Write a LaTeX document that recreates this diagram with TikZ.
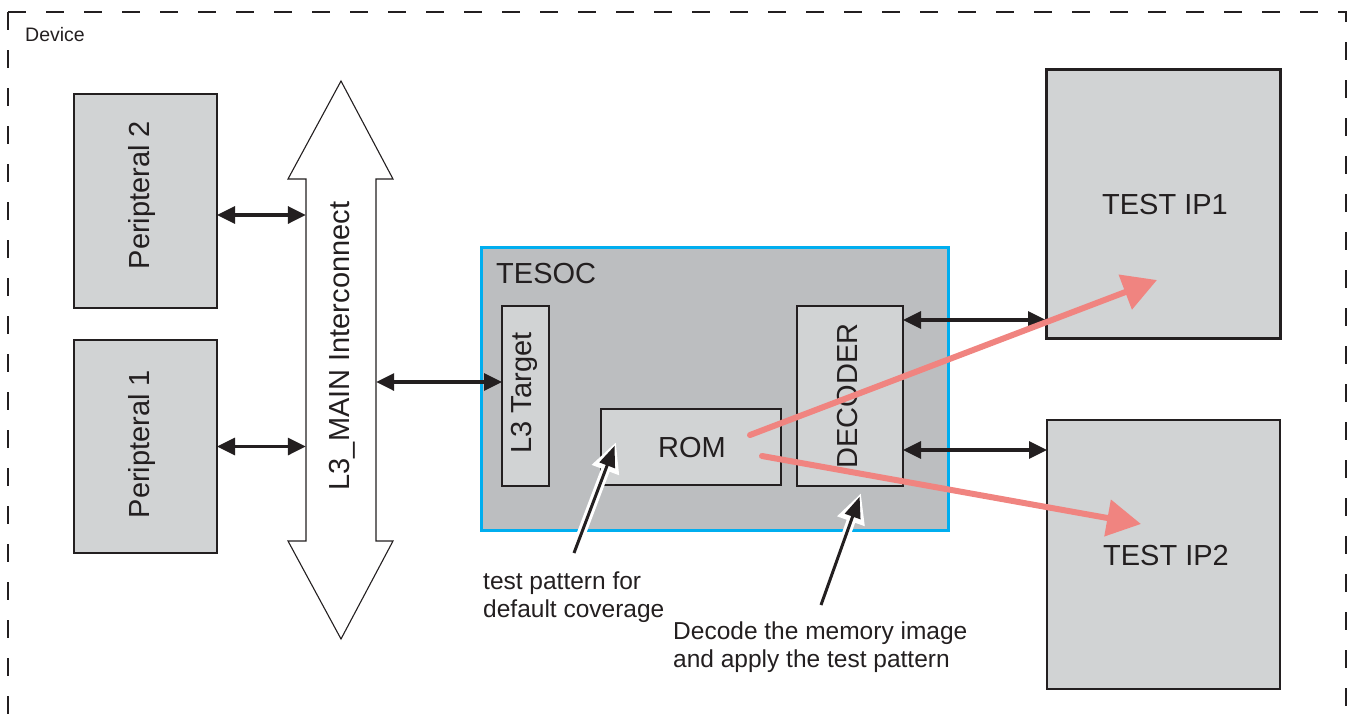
\documentclass[tikz,border=0pt]{standalone}
\usepackage{fontspec}
\setmainfont{Liberation Sans}
\usetikzlibrary{arrows.meta}
\definecolor{boxgray}{HTML}{D1D3D4}
\definecolor{socgray}{HTML}{BCBEC0}
\definecolor{cyanb}{HTML}{00AEEF}
\definecolor{salmon}{HTML}{F08480}
\definecolor{ink}{HTML}{231F20}
\begin{document}
\begin{tikzpicture}[x=1pt,y=-1pt,
  box/.style={draw=ink, fill=boxgray, line width=1.2pt, inner sep=0pt, outer sep=0pt},
  lbl/.style={text=ink, inner sep=0pt, font=\fontsize{29}{34}\selectfont},
  note/.style={text=ink, inner sep=0pt, align=left, font=\fontsize{24.5}{27.5}\selectfont},
  frame/.style={draw=ink, line width=1.3pt, dash pattern=on 18pt off 20pt},
  dbl/.style={draw=ink, line width=3.3pt, {Triangle[length=18pt,width=17pt]}-{Triangle[length=18pt,width=17pt]}},
  flow/.style={draw=salmon, line width=6pt, line cap=round, -{Triangle[length=34pt,width=36pt]}},
  halo/.style={draw=white, line width=9pt, -{Triangle[length=30pt,width=27pt]}},
  pointer/.style={draw=ink, line width=3pt, shorten >=4pt, -{Triangle[length=21pt,width=16pt]}}
]
\useasboundingbox (0,0) rectangle (1352,723);

% device frame
\draw[frame] (8,12) -- (8,760);
\draw[frame] (8,12) -- (1346,12) -- (1346,760);
\node[text=ink, inner sep=0pt, anchor=base west, font=\fontsize{19.5}{22}\selectfont] (dev) at (25,41) {Device};

% peripherals
\node[box, minimum width=143pt, minimum height=214pt] (p2) at (145.5,201) {};
\node[lbl, rotate=90] (p2t) at (142,195) {Peripteral 2};
\node[box, minimum width=143pt, minimum height=213pt] (p1) at (145.5,446.5) {};
\node[lbl, rotate=90] (p1t) at (142,444) {Peripteral 1};

% interconnect bus (double arrow outline)
\node[inner sep=0pt, minimum width=70pt, minimum height=362pt] (bus) at (341,360) {};
\draw[draw=ink, fill=white, line width=1.1pt, line join=miter]
  (306,179) -- (288,179) -- (341,81) -- (393,179) -- (376,179) -- (376,541)
  -- (393,541) -- (341,639) -- (288,541) -- (306,541) -- cycle;
\node[lbl, rotate=90] (bust) at (342,346) {L3\_MAIN Interconnect};

% TESOC
\node[draw=cyanb, fill=socgray, line width=3pt, inner sep=0pt, minimum width=467pt, minimum height=283pt] (soc) at (714.5,388.5) {};
\node[lbl, anchor=base west] (soct) at (496,283) {TESOC};
\node[box, minimum width=47pt, minimum height=180pt] (l3) at (525.5,396) {};
\node[lbl, rotate=90] (l3t) at (524,393) {L3 Target};
\node[box, minimum width=180pt, minimum height=76pt] (rom) at (691,447) {};
\node[lbl] (romt) at (692,448) {ROM};
\node[box, minimum width=106pt, minimum height=180pt] (dec) at (850,396) {};
\node[lbl, rotate=90] (dect) at (848,396) {DECODER};

% test IPs
\node[box, line width=3pt, minimum width=234pt, minimum height=269pt] (ip1) at (1163,203.5) {};
\node[lbl] (ip1t) at (1165,205) {TEST IP1};
\node[box, minimum width=233pt, minimum height=269pt] (ip2) at (1163.5,554.5) {};
\node[lbl] (ip2t) at (1166,556) {TEST IP2};

% bus connections
\draw[dbl] ([yshift=-14pt]p2.east) -- ([yshift=-14pt]p2.east -| bus.west);
\draw[dbl] (p1.east) -- (p1.east -| bus.west);
\draw[dbl] ([yshift=14pt]l3.west -| bus.east) -- ([yshift=14pt]l3.west);
\draw[dbl] ([yshift=76pt]dec.east) -- ([yshift=76pt]dec.east -| ip1.west);
\draw[dbl] ([yshift=-54pt]dec.east) -- ([yshift=-54pt]dec.east -| ip2.west);

% data flow arrows
\coordinate (r1s) at (750,435);
\coordinate (r1e) at (1157,280);
\coordinate (r2s) at (762,456);
\coordinate (r2e) at (1141,524);
\draw[flow] (r1s) -- (r1e);
\draw[flow] (r2s) -- (r2e);

% annotations
\node[note, anchor=north west] (n1) at (483,572) {test pattern for\\default coverage};
\node[note, anchor=north west] (n2) at (673,622) {Decode the memory image\\and apply the test pattern};
\coordinate (a1s) at (574,553);
\coordinate (a1e) at (616,442);
\coordinate (a2s) at (821,605);
\coordinate (a2e) at (861,493);
\draw[halo] (a1s) -- (a1e);
\draw[pointer] (a1s) -- (a1e);
\draw[halo] (a2s) -- (a2e);
\draw[pointer] (a2s) -- (a2e);
\end{tikzpicture}
\end{document}
